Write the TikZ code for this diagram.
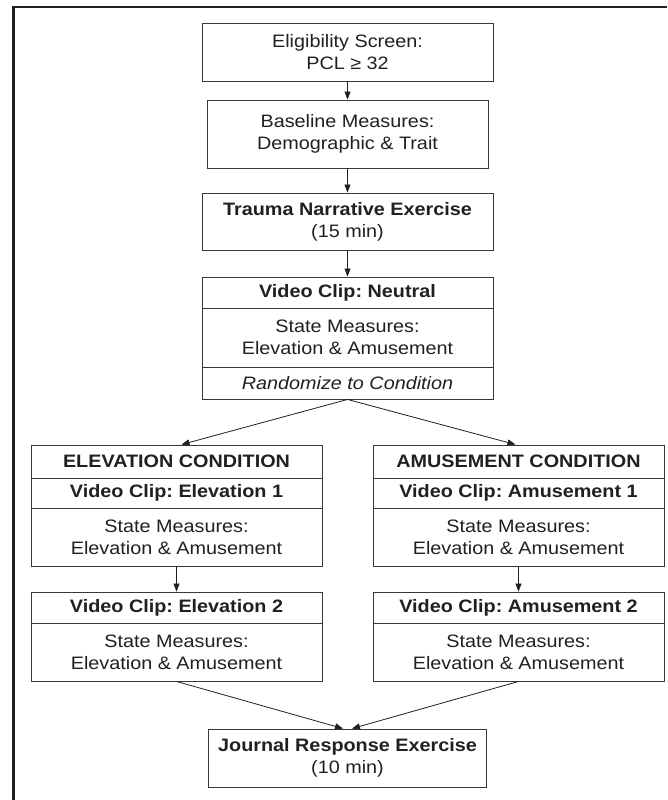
\documentclass[tikz,border=0pt]{standalone}
\usepackage{fontspec}
\setmainfont{Liberation Sans}[FakeStretch=1.1]
\usetikzlibrary{arrows.meta}
\definecolor{ink}{HTML}{231F20}
\frenchspacing
\begin{document}
\begin{tikzpicture}[x=1pt,y=1pt,
  box/.style={draw=black!78, line width=0.9pt, fill=white, text=ink, align=center,
    inner sep=0pt, font=\fontsize{18}{22}\selectfont\frenchspacing, minimum width=291pt},
  conn/.style={draw=ink, line width=0.8pt, -{Triangle[length=8pt,width=6pt]}}]
\useasboundingbox (0,0) rectangle (667,-800);
\draw[ink, line width=2.2pt] (13.5,-800) -- (13.5,-6.7) -- (667,-6.7);

% top chain
\node[box, minimum height=58pt] (elig) at (347.5,-52) {Eligibility Screen:\\PCL ≥ 32};
\node[box, minimum height=68pt, minimum width=281pt] (base) at (347.5,-134) {Baseline Measures:\\Demographic \& Trait};
\node[box, minimum height=57pt] (trauma) at (347.5,-221.5) {\textbf{Trauma Narrative Exercise}\\(15 min)};
\node[box, minimum height=31pt] (nh) at (347.5,-292.5) {\textbf{Video Clip: Neutral}};
\node[box, minimum height=59pt] (nm) at (347.5,-337.5) {State Measures:\\Elevation \& Amusement};
\node[box, minimum height=32pt] (nr) at (347.5,-383) {\itshape Randomize to Condition};

% elevation column
\node[box, minimum height=33pt] (ec) at (176.5,-461.5) {\textbf{ELEVATION CONDITION}};
\node[box, minimum height=30pt] (e1h) at (176.5,-493) {\textbf{Video Clip: Elevation 1}};
\node[box, minimum height=58pt] (e1m) at (176.5,-537) {State Measures:\\Elevation \& Amusement};
\node[box, minimum height=31pt] (e2h) at (176.5,-607.5) {\textbf{Video Clip: Elevation 2}};
\node[box, minimum height=58pt] (e2m) at (176.5,-652) {State Measures:\\Elevation \& Amusement};

% amusement column
\node[box, minimum height=33pt] (ac) at (518.5,-461.5) {\textbf{AMUSEMENT CONDITION}};
\node[box, minimum height=30pt] (a1h) at (518.5,-493) {\textbf{Video Clip: Amusement 1}};
\node[box, minimum height=58pt] (a1m) at (518.5,-537) {State Measures:\\Elevation \& Amusement};
\node[box, minimum height=31pt] (a2h) at (518.5,-607.5) {\textbf{Video Clip: Amusement 2}};
\node[box, minimum height=58pt] (a2m) at (518.5,-652) {State Measures:\\Elevation \& Amusement};

% journal
\node[box, minimum height=58pt, minimum width=278pt] (journal) at (347.5,-758) {\textbf{Journal Response Exercise}\\(10 min)};

% connectors
\draw[conn] (elig.south) -- (base.north);
\draw[conn] (base.south) -- (trauma.north);
\draw[conn] (trauma.south) -- (nh.north);
\draw[conn] (nr.south) -- ([xshift=5pt]ec.north);
\draw[conn] (nr.south) -- ([xshift=-3pt]ac.north);
\draw[conn] (e1m.south) -- (e2h.north);
\draw[conn] (a1m.south) -- (a2h.north);
\draw[conn] (e2m.south) -- ([xshift=-4.5pt]journal.north);
\draw[conn] (a2m.south) -- ([xshift=4.5pt]journal.north);
\end{tikzpicture}
\end{document}
